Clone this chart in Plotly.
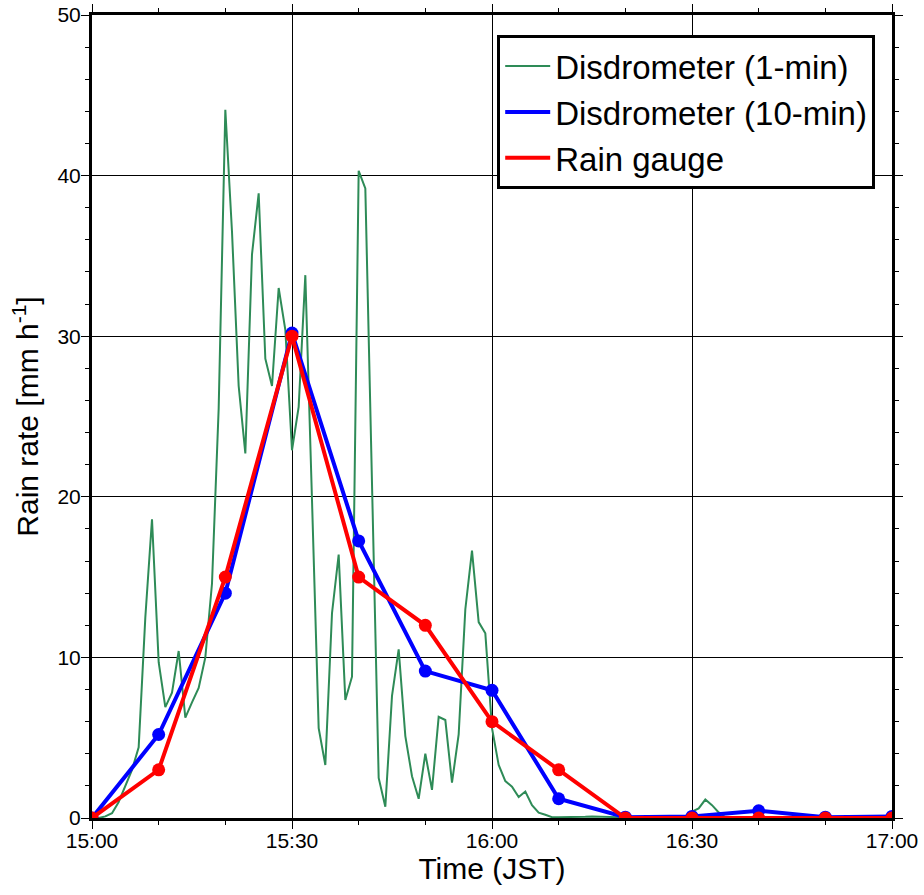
import plotly.graph_objects as go

# Minutes after 15:00 JST
minutes_1min = list(range(0, 121))
disdro_1min = [
    0.0, 0.0, 0.1, 0.3, 1.0, 2.0, 3.0, 4.4, 12.5, 18.6,      # 0-9
    9.7, 6.9, 7.8, 10.4, 6.25, 7.2, 8.1, 10.0, 14.6, 25.5,   # 10-19
    44.1, 36.5, 26.9, 22.7, 35.1, 38.9, 28.6, 26.9, 33.0, 30.4,  # 20-29
    22.9, 25.6, 33.8, 19.8, 5.6, 3.3, 12.75, 16.4, 7.35, 8.8,    # 30-39
    40.3, 39.2, 20.0, 2.5, 0.7, 7.6, 10.5, 5.1, 2.6, 1.2,        # 40-49
    4.0, 1.75, 6.3, 6.1, 2.2, 5.2, 13.0, 16.65, 12.2, 11.5,      # 50-59
    5.6, 3.3, 2.3, 1.95, 1.3, 1.65, 0.8, 0.33, 0.2, 0.05,        # 60-69
    0.05, 0.05, 0.05, 0.05, 0.08, 0.1, 0.08, 0.05, 0.05, 0.05,   # 70-79
    0.05, 0.05, 0.05, 0.05, 0.05, 0.05, 0.05, 0.05, 0.05, 0.1,   # 80-89
    0.4, 0.6, 1.15, 0.8, 0.35, 0.05, 0.0, 0.0, 0.0, 0.0,         # 90-99
    0.0, 0.0, 0.0, 0.0, 0.0, 0.0, 0.0, 0.0, 0.0, 0.0,            # 100-109
    0.0, 0.0, 0.0, 0.0, 0.0, 0.0, 0.0, 0.0, 0.0, 0.0, 0.0,       # 110-120
]

minutes_10min = [0, 10, 20, 30, 40, 50, 60, 70, 80, 90, 100, 110, 120]
disdro_10min = [0.0, 5.2, 14.0, 30.2, 17.25, 9.15, 7.95, 1.2, 0.05, 0.1, 0.45, 0.05, 0.1]
rain_gauge = [0.0, 3.0, 15.0, 30.0, 15.0, 12.0, 6.0, 3.0, 0.0, 0.0, 0.0, 0.0, 0.0]

x_tickvals = [0, 30, 60, 90, 120]
x_ticktext = ["15:00", "15:30", "16:00", "16:30", "17:00"]
y_tickvals = [0, 10, 20, 30, 40, 50]

FONT = "Liberation Sans, Arial, Helvetica, sans-serif"
GREEN, BLUE, RED = "#2E8B57", "#0000FF", "#FF0000"

fig = go.Figure()
fig.add_trace(go.Scatter(
    x=minutes_1min, y=disdro_1min, mode="lines",
    name="Disdrometer (1-min)", legendgroup="g",
    line=dict(color=GREEN, width=2),
))
# 10-min disdrometer: line (legend entry) + markers (no legend entry)
fig.add_trace(go.Scatter(
    x=minutes_10min, y=disdro_10min, mode="lines",
    name="Disdrometer (10-min)", legendgroup="b",
    line=dict(color=BLUE, width=4),
))
fig.add_trace(go.Scatter(
    x=minutes_10min, y=disdro_10min, mode="markers",
    name="Disdrometer (10-min)", legendgroup="b", showlegend=False,
    marker=dict(color=BLUE, size=13),
))
# Rain gauge
fig.add_trace(go.Scatter(
    x=minutes_10min, y=rain_gauge, mode="lines",
    name="Rain gauge", legendgroup="r",
    line=dict(color=RED, width=4),
))
fig.add_trace(go.Scatter(
    x=minutes_10min, y=rain_gauge, mode="markers",
    name="Rain gauge", legendgroup="r", showlegend=False,
    marker=dict(color=RED, size=13),
))

axis_common = dict(
    showline=True, linecolor="black", linewidth=3, mirror="allticks",
    ticks="outside", ticklen=8, tickwidth=1, tickcolor="black",
    showgrid=True, gridcolor="black", gridwidth=1,
    zeroline=False, automargin=False, ticklabeloverflow="allow",
)

fig.update_layout(
    width=924, height=895,
    margin=dict(l=92, r=32, t=15, b=77),
    paper_bgcolor="white", plot_bgcolor="white",
    font=dict(family=FONT, color="black"),
    showlegend=True,
    legend=dict(
        x=0.979, y=0.975, xanchor="right", yanchor="top",
        bgcolor="white", bordercolor="black", borderwidth=3,
        font=dict(family=FONT, size=33, color="black"),
        itemwidth=45, tracegroupgap=0,
    ),
    xaxis=dict(
        **axis_common,
        tickfont=dict(family=FONT, size=21, color="black"),
        range=[0, 120],
        tickmode="array", tickvals=x_tickvals, ticktext=x_ticktext,
        ticklabelstandoff=-6,
        minor=dict(tickmode="linear", tick0=0, dtick=10, ticks="outside",
                   ticklen=4, tickcolor="black", showgrid=False),
        title=dict(text="Time (JST)", font=dict(family=FONT, size=30, color="black"),
                   standoff=0),
    ),
    yaxis=dict(
        **axis_common,
        tickfont=dict(family=FONT, size=21, color="black"),
        range=[0, 50],
        tickmode="array", tickvals=y_tickvals,
        ticklabelstandoff=-4,
        minor=dict(tickmode="linear", tick0=0, dtick=2, ticks="outside",
                   ticklen=4, tickcolor="black", showgrid=False),
        title=dict(text="Rain rate [mm h<sup>-1</sup>]",
                   font=dict(family=FONT, size=30, color="black"),
                   standoff=10),
    ),
)

# remove the default page margin so the figure fills the window exactly
fig.write_html(
    "out.html",
    config={"displayModeBar": False},
    post_script="document.body.style.margin='0';",
)
